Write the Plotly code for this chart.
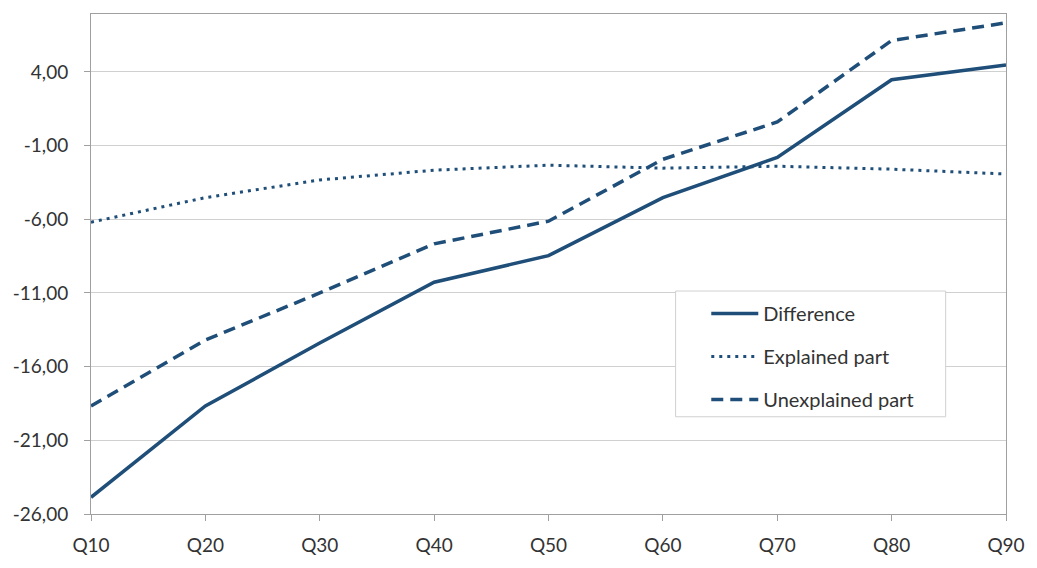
import plotly.graph_objects as go

quantiles = ["Q10", "Q20", "Q30", "Q40", "Q50", "Q60", "Q70", "Q80", "Q90"]
difference = [-24.87, -18.67, -14.4, -10.27, -8.47, -4.53, -1.8, 3.47, 4.47]
explained = [-6.2, -4.53, -3.33, -2.67, -2.33, -2.53, -2.4, -2.6, -2.93]
unexplained = [-18.67, -14.2, -11.0, -7.67, -6.13, -1.93, 0.6, 6.13, 7.33]

y_ticks = [-26, -21, -16, -11, -6, -1, 4]
y_labels = ["-26,00", "-21,00", "-16,00", "-11,00", "-6,00", "-1,00", "4,00"]

color = "#1F4E79"
font = "Lato, 'Open Sans', sans-serif"
txt = "#333333"

fig = go.Figure()
fig.add_trace(go.Scatter(
    x=quantiles, y=difference, mode="lines", name="Difference",
    legendgroup="a", line=dict(color=color, width=3.5),
))
fig.add_trace(go.Scatter(
    x=quantiles, y=explained, mode="lines", name="Explained part",
    legendgroup="b", line=dict(color=color, width=3, dash="3px,5px"),
))
fig.add_trace(go.Scatter(
    x=quantiles, y=unexplained, mode="lines", name="Unexplained part",
    legendgroup="c", line=dict(color=color, width=3.5, dash="12px,7px"),
))

# legend frame (plot area spans 925 x 509 px)
fig.add_shape(
    type="rect", xref="paper", yref="paper",
    x0=(682 - 91) / 925, x1=(955 - 91) / 925,
    y0=(523 - 424) / 509, y1=(523 - 296) / 509,
    line=dict(color="#D0D0D0", width=1), fillcolor="white", layer="above",
)

fig.update_layout(
    width=1037, height=568,
    margin=dict(l=91, r=21, t=14, b=45),
    paper_bgcolor="white", plot_bgcolor="white",
    font=dict(family=font, size=19, color=txt),
    showlegend=True,
    legend=dict(
        x=(713 - 91) / 925, y=(523 - 299) / 509, xanchor="left", yanchor="top",
        bgcolor="rgba(0,0,0,0)", borderwidth=0, tracegroupgap=14,
        itemwidth=47,
        font=dict(family=font, size=20, color=txt),
    ),
    xaxis=dict(
        type="category", range=[0, 8],
        showline=True, linecolor="#A0A0A0", linewidth=1, mirror=True,
        ticks="outside", ticklen=6, tickcolor="#A0A0A0",
        ticklabelstandoff=8,
        tickson="labels", showgrid=False, zeroline=False,
    ),
    yaxis=dict(
        range=[-26, 7.93], tickvals=y_ticks, ticktext=y_labels,
        showline=True, linecolor="#A0A0A0", linewidth=1, mirror=True,
        ticks="outside", ticklen=6, tickcolor="#A0A0A0",
        ticklabelstandoff=12,
        showgrid=True, gridcolor="#D0D0D0", gridwidth=1, zeroline=False,
    ),
)

# drop the default page margin and scrollbars so the figure fills the window
page_css = (
    "document.body.style.margin='0';"
    "document.body.style.overflow='hidden';"
    "document.documentElement.style.overflow='hidden';"
)
fig.write_html("out.html", post_script=page_css, config={"displayModeBar": False})
